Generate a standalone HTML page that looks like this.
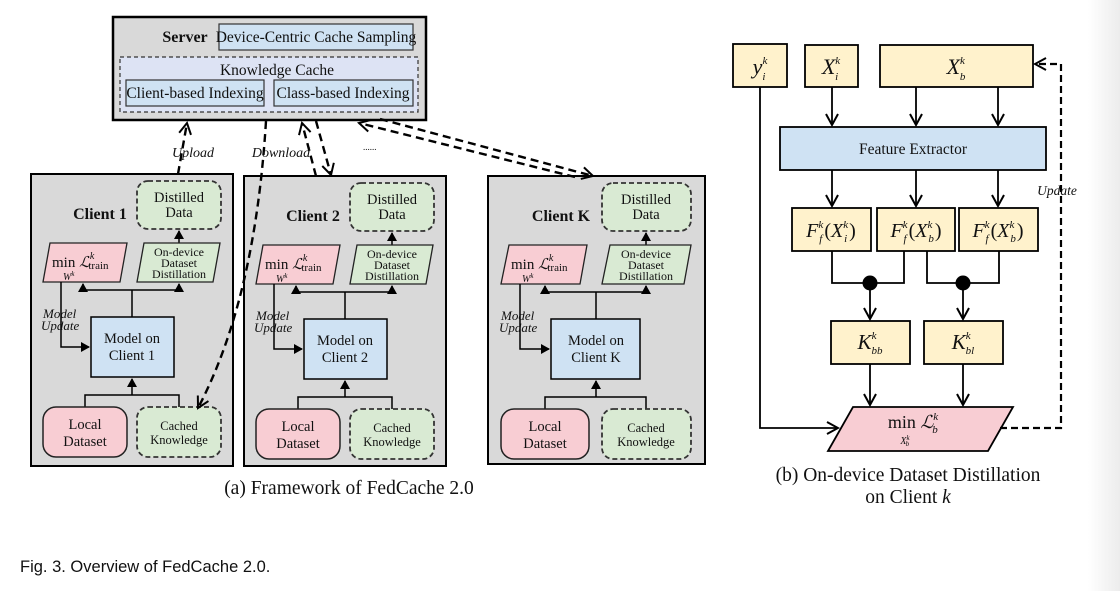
<!DOCTYPE html>
<html><head><meta charset="utf-8"><style>
html,body{margin:0;padding:0;background:#fff;}
svg{display:block;}
text{font-family:"Liberation Serif",serif;fill:#111;}
.c{text-anchor:middle;}
.i{font-style:italic;}
</style></head><body>
<svg width="1120" height="591" viewBox="0 0 1120 591" xmlns="http://www.w3.org/2000/svg">
<defs>
<linearGradient id="g" x1="0" x2="1"><stop offset="0" stop-color="#fff"/><stop offset="1" stop-color="#ececec"/></linearGradient>
<marker id="a" markerWidth="10" markerHeight="10" refX="8" refY="5" orient="auto" markerUnits="userSpaceOnUse"><path d="M0,0 L9,5 L0,10 z" fill="#000"/></marker>
<marker id="o" markerWidth="14" markerHeight="14" refX="12" refY="7" orient="auto" markerUnits="userSpaceOnUse"><path d="M1,1 L12,7 L1,13" fill="none" stroke="#000" stroke-width="2"/></marker>
</defs>
<rect x="1088" y="0" width="32" height="591" fill="url(#g)"/>

<!-- Server -->
<rect x="113" y="17" width="313" height="103" fill="#d9d9d9" stroke="#000" stroke-width="2.5"/>
<text x="185" y="42" class="c" font-weight="bold" font-size="16">Server</text>
<rect x="219" y="24" width="194" height="26" fill="#cfe2f3" stroke="#333" stroke-width="1.2"/>
<text x="316" y="42" class="c" font-size="15.5">Device-Centric Cache Sampling</text>
<rect x="120" y="57" width="298" height="55" fill="#dde3f4" stroke="#333" stroke-width="1.2" stroke-dasharray="4,3"/>
<text x="277" y="75" class="c" font-size="15.5">Knowledge Cache</text>
<rect x="126" y="80" width="138" height="26" fill="#cfe2f3" stroke="#333" stroke-width="1.2"/>
<text x="195" y="98" class="c" font-size="15.5">Client-based Indexing</text>
<rect x="274" y="80" width="139" height="26" fill="#cfe2f3" stroke="#333" stroke-width="1.2"/>
<text x="343" y="98" class="c" font-size="15.5">Class-based Indexing</text>

<!-- Clients -->
<g>
<rect x="31" y="174" width="202" height="292" fill="#d9d9d9" stroke="#000" stroke-width="2"/>
<text x="100" y="219" class="c" font-weight="bold" font-size="16">Client 1</text>
<rect x="137" y="181" width="84" height="48" rx="11" fill="#d9ead3" stroke="#333" stroke-width="1.8" stroke-dasharray="5,3"/>
<text x="179" y="202" class="c" font-size="14.5">Distilled</text><text x="179" y="217" class="c" font-size="14.5">Data</text>
<line x1="179" y1="243" x2="179" y2="231" stroke="#000" stroke-width="1.5" marker-end="url(#a)"/>
<polygon points="50,243 127,243 120,282 43,282" fill="#f8cdd3" stroke="#222" stroke-width="1.3"/>
<text x="52" y="267" font-size="15">min <tspan class="i">ℒ</tspan><tspan font-size="10" dy="-8" class="i">k</tspan><tspan font-size="11" dx="-6" dy="10">train</tspan></text>
<text x="63" y="280" class="i" font-size="10">W<tspan font-size="7" dy="-4">k</tspan></text>
<polygon points="144,243 220,243 213,282 137,282" fill="#d9ead3" stroke="#222" stroke-width="1.3"/>
<text x="179" y="256" class="c" font-size="12">On-device</text><text x="179" y="267" class="c" font-size="12">Dataset</text><text x="179" y="278" class="c" font-size="12">Distillation</text>
<path d="M132,317 V290 M83,290 H179" stroke="#000" stroke-width="1.5" fill="none"/>
<line x1="83" y1="290" x2="83" y2="284" stroke="#000" stroke-width="1.5" marker-end="url(#a)"/>
<line x1="179" y1="290" x2="179" y2="284" stroke="#000" stroke-width="1.5" marker-end="url(#a)"/>
<path d="M61,282 V347 H89" stroke="#000" stroke-width="1.5" fill="none" marker-end="url(#a)"/>
<text x="43" y="318" class="i" font-size="13">Model</text><text x="41" y="330" class="i" font-size="13">Update</text>
<rect x="91" y="317" width="83" height="60" fill="#cfe2f3" stroke="#000" stroke-width="1.5"/>
<text x="132" y="343" class="c" font-size="14.5">Model on</text><text x="132" y="360" class="c" font-size="14.5">Client 1</text>
<path d="M85,407 V395 H179 V407" stroke="#000" stroke-width="1.5" fill="none"/>
<line x1="132" y1="395" x2="132" y2="379" stroke="#000" stroke-width="1.5" marker-end="url(#a)"/>
<rect x="43" y="407" width="84" height="50" rx="13" fill="#f8cdd3" stroke="#222" stroke-width="1.5"/>
<text x="85" y="429" class="c" font-size="14.5">Local</text><text x="85" y="446" class="c" font-size="14.5">Dataset</text>
<rect x="137" y="407" width="84" height="50" rx="11" fill="#d9ead3" stroke="#333" stroke-width="1.8" stroke-dasharray="5,3"/>
<text x="179" y="430" class="c" font-size="12.5">Cached</text><text x="179" y="444" class="c" font-size="12.5">Knowledge</text>
</g>

<g transform="translate(213,2)">
<rect x="31" y="174" width="202" height="290" fill="#d9d9d9" stroke="#000" stroke-width="2"/>
<text x="100" y="219" class="c" font-weight="bold" font-size="16">Client 2</text>
<rect x="137" y="181" width="84" height="48" rx="11" fill="#d9ead3" stroke="#333" stroke-width="1.8" stroke-dasharray="5,3"/>
<text x="179" y="202" class="c" font-size="14.5">Distilled</text><text x="179" y="217" class="c" font-size="14.5">Data</text>
<line x1="179" y1="243" x2="179" y2="231" stroke="#000" stroke-width="1.5" marker-end="url(#a)"/>
<polygon points="50,243 127,243 120,282 43,282" fill="#f8cdd3" stroke="#222" stroke-width="1.3"/>
<text x="52" y="267" font-size="15">min <tspan class="i">ℒ</tspan><tspan font-size="10" dy="-8" class="i">k</tspan><tspan font-size="11" dx="-6" dy="10">train</tspan></text>
<text x="63" y="280" class="i" font-size="10">W<tspan font-size="7" dy="-4">k</tspan></text>
<polygon points="144,243 220,243 213,282 137,282" fill="#d9ead3" stroke="#222" stroke-width="1.3"/>
<text x="179" y="256" class="c" font-size="12">On-device</text><text x="179" y="267" class="c" font-size="12">Dataset</text><text x="179" y="278" class="c" font-size="12">Distillation</text>
<path d="M132,317 V290 M83,290 H179" stroke="#000" stroke-width="1.5" fill="none"/>
<line x1="83" y1="290" x2="83" y2="284" stroke="#000" stroke-width="1.5" marker-end="url(#a)"/>
<line x1="179" y1="290" x2="179" y2="284" stroke="#000" stroke-width="1.5" marker-end="url(#a)"/>
<path d="M61,282 V347 H89" stroke="#000" stroke-width="1.5" fill="none" marker-end="url(#a)"/>
<text x="43" y="318" class="i" font-size="13">Model</text><text x="41" y="330" class="i" font-size="13">Update</text>
<rect x="91" y="317" width="83" height="60" fill="#cfe2f3" stroke="#000" stroke-width="1.5"/>
<text x="132" y="343" class="c" font-size="14.5">Model on</text><text x="132" y="360" class="c" font-size="14.5">Client 2</text>
<path d="M85,407 V395 H179 V407" stroke="#000" stroke-width="1.5" fill="none"/>
<line x1="132" y1="395" x2="132" y2="379" stroke="#000" stroke-width="1.5" marker-end="url(#a)"/>
<rect x="43" y="407" width="84" height="50" rx="13" fill="#f8cdd3" stroke="#222" stroke-width="1.5"/>
<text x="85" y="429" class="c" font-size="14.5">Local</text><text x="85" y="446" class="c" font-size="14.5">Dataset</text>
<rect x="137" y="407" width="84" height="50" rx="11" fill="#d9ead3" stroke="#333" stroke-width="1.8" stroke-dasharray="5,3"/>
<text x="179" y="430" class="c" font-size="12.5">Cached</text><text x="179" y="444" class="c" font-size="12.5">Knowledge</text>
</g>

<g transform="translate(457,2)">
<rect x="31" y="174" width="217" height="288" fill="#d9d9d9" stroke="#000" stroke-width="2"/>
<text x="104" y="219" class="c" font-weight="bold" font-size="16">Client K</text>
<rect x="145" y="181" width="89" height="48" rx="11" fill="#d9ead3" stroke="#333" stroke-width="1.8" stroke-dasharray="5,3"/>
<text x="189" y="202" class="c" font-size="14.5">Distilled</text><text x="189" y="217" class="c" font-size="14.5">Data</text>
<line x1="189" y1="243" x2="189" y2="231" stroke="#000" stroke-width="1.5" marker-end="url(#a)"/>
<polygon points="52,243 130,243 123,282 44,282" fill="#f8cdd3" stroke="#222" stroke-width="1.3"/>
<text x="54" y="267" font-size="15">min <tspan class="i">ℒ</tspan><tspan font-size="10" dy="-8" class="i">k</tspan><tspan font-size="11" dx="-6" dy="10">train</tspan></text>
<text x="65" y="280" class="i" font-size="10">W<tspan font-size="7" dy="-4">k</tspan></text>
<polygon points="153,243 234,243 227,282 145,282" fill="#d9ead3" stroke="#222" stroke-width="1.3"/>
<text x="189" y="256" class="c" font-size="12">On-device</text><text x="189" y="267" class="c" font-size="12">Dataset</text><text x="189" y="278" class="c" font-size="12">Distillation</text>
<path d="M139,317 V290 M88,290 H189" stroke="#000" stroke-width="1.5" fill="none"/>
<line x1="88" y1="290" x2="88" y2="284" stroke="#000" stroke-width="1.5" marker-end="url(#a)"/>
<line x1="189" y1="290" x2="189" y2="284" stroke="#000" stroke-width="1.5" marker-end="url(#a)"/>
<path d="M63,282 V347 H92" stroke="#000" stroke-width="1.5" fill="none" marker-end="url(#a)"/>
<text x="44" y="318" class="i" font-size="13">Model</text><text x="42" y="330" class="i" font-size="13">Update</text>
<rect x="94" y="317" width="89" height="60" fill="#cfe2f3" stroke="#000" stroke-width="1.5"/>
<text x="139" y="343" class="c" font-size="14.5">Model on</text><text x="139" y="360" class="c" font-size="14.5">Client K</text>
<path d="M88,407 V395 H189 V407" stroke="#000" stroke-width="1.5" fill="none"/>
<line x1="139" y1="395" x2="139" y2="379" stroke="#000" stroke-width="1.5" marker-end="url(#a)"/>
<rect x="44" y="407" width="88" height="50" rx="13" fill="#f8cdd3" stroke="#222" stroke-width="1.5"/>
<text x="88" y="429" class="c" font-size="14.5">Local</text><text x="88" y="446" class="c" font-size="14.5">Dataset</text>
<rect x="145" y="407" width="89" height="50" rx="11" fill="#d9ead3" stroke="#333" stroke-width="1.8" stroke-dasharray="5,3"/>
<text x="189" y="430" class="c" font-size="12.5">Cached</text><text x="189" y="444" class="c" font-size="12.5">Knowledge</text>
</g>

<!-- server links -->
<g stroke="#000" stroke-width="2.4" stroke-dasharray="8,5" fill="none">
<line x1="178" y1="174" x2="187" y2="123" marker-end="url(#o)"/>
<path d="M266,121 Q255,300 198,408" marker-end="url(#o)"/>
<line x1="316" y1="176" x2="302" y2="123" marker-end="url(#o)"/>
<line x1="316" y1="121" x2="331" y2="175" marker-end="url(#o)"/>
<line x1="575" y1="177" x2="359" y2="123" marker-end="url(#o)"/>
<line x1="380" y1="119" x2="593" y2="176" marker-end="url(#o)"/>
</g>
<text x="193" y="157" class="c i" font-size="14">Upload</text>
<text x="281" y="157" class="c i" font-size="14">Download</text>
<text x="363" y="150" font-size="9">......</text>
<text x="349" y="494" class="c" font-size="19.5">(a) Framework of FedCache 2.0</text>

<!-- Right panel -->
<g stroke="#000" stroke-width="1.8">
<rect x="733" y="44" width="54" height="43" fill="#fff2cc"/>
<rect x="805" y="45" width="53" height="42" fill="#fff2cc"/>
<rect x="880" y="45" width="153" height="42" fill="#fff2cc"/>
<rect x="780" y="127" width="266" height="43" fill="#cfe2f3"/>
<rect x="792" y="208" width="79" height="43" fill="#fff2cc"/>
<rect x="877" y="208" width="78" height="43" fill="#fff2cc"/>
<rect x="959" y="208" width="79" height="43" fill="#fff2cc"/>
<rect x="831" y="321" width="79" height="43" fill="#fff2cc"/>
<rect x="924" y="321" width="79" height="43" fill="#fff2cc"/>
<polygon points="853,407 1013,407 988,451 828,451" fill="#f8cdd3"/>
</g>
<g stroke="#000" stroke-width="1.8" fill="none">
<line x1="832" y1="87" x2="832" y2="125" marker-end="url(#o)"/>
<line x1="916" y1="87" x2="916" y2="125" marker-end="url(#o)"/>
<line x1="998" y1="87" x2="998" y2="125" marker-end="url(#o)"/>
<line x1="832" y1="170" x2="832" y2="206" marker-end="url(#o)"/>
<line x1="916" y1="170" x2="916" y2="206" marker-end="url(#o)"/>
<line x1="998" y1="170" x2="998" y2="206" marker-end="url(#o)"/>
<path d="M832,251 V283 H904 V251"/>
<path d="M927,251 V283 H999 V251"/>
<line x1="870" y1="283" x2="870" y2="319" marker-end="url(#o)"/>
<line x1="963" y1="283" x2="963" y2="319" marker-end="url(#o)"/>
<line x1="870" y1="364" x2="870" y2="405" marker-end="url(#o)"/>
<line x1="963" y1="364" x2="963" y2="405" marker-end="url(#o)"/>
<path d="M760,87 V428 H838" marker-end="url(#o)"/>
<path d="M1000,428 H1061 V64 H1035" stroke-width="2.2" stroke-dasharray="7,4" marker-end="url(#o)"/>
</g>
<circle cx="870" cy="283" r="7.5" fill="#000"/>
<circle cx="963" cy="283" r="7.5" fill="#000"/>
<text x="760" y="74" class="c i" font-size="22">y<tspan font-size="11" dy="-10">k</tspan><tspan font-size="11" dx="-5" dy="16">i</tspan></text>
<text x="831" y="74" class="c i" font-size="22">X<tspan font-size="11" dy="-10">k</tspan><tspan font-size="11" dx="-5" dy="16">i</tspan></text>
<text x="956" y="74" class="c i" font-size="22">X<tspan font-size="11" dy="-10">k</tspan><tspan font-size="11" dx="-5" dy="16">b</tspan></text>
<text x="913" y="154" class="c" font-size="15.5">Feature Extractor</text>
<text x="831" y="237" class="c i" font-size="20">F<tspan font-size="11" dy="-9">k</tspan><tspan font-size="11" dx="-4" dy="14">f</tspan><tspan dx="2" dy="-5" font-style="normal">(</tspan>X<tspan font-size="11" dy="-9">k</tspan><tspan font-size="11" dx="-4" dy="14">i</tspan><tspan dx="2" dy="-5" font-style="normal">)</tspan></text>
<text x="916" y="237" class="c i" font-size="20">F<tspan font-size="11" dy="-9">k</tspan><tspan font-size="11" dx="-4" dy="14">f</tspan><tspan dx="2" dy="-5" font-style="normal">(</tspan>X<tspan font-size="11" dy="-9">k</tspan><tspan font-size="11" dx="-4" dy="14">b</tspan><tspan dx="1" dy="-5" font-style="normal">)</tspan></text>
<text x="998" y="237" class="c i" font-size="20">F<tspan font-size="11" dy="-9">k</tspan><tspan font-size="11" dx="-4" dy="14">f</tspan><tspan dx="2" dy="-5" font-style="normal">(</tspan>X<tspan font-size="11" dy="-9">k</tspan><tspan font-size="11" dx="-4" dy="14">b</tspan><tspan dx="1" dy="-5" font-style="normal">)</tspan></text>
<text x="870" y="349" class="c i" font-size="21">K<tspan font-size="11" dy="-10">k</tspan><tspan font-size="11" dx="-5" dy="15">bb</tspan></text>
<text x="963" y="349" class="c i" font-size="21">K<tspan font-size="11" dy="-10">k</tspan><tspan font-size="11" dx="-5" dy="15">bl</tspan></text>
<text x="913" y="428" class="c" font-size="18">min <tspan class="i">ℒ</tspan><tspan font-size="11" class="i" dy="-8">k</tspan><tspan font-size="11" class="i" dx="-6" dy="13">b</tspan></text>
<text x="905" y="444" class="c i" font-size="10">X<tspan font-size="7" dy="-4">k</tspan><tspan font-size="7" dx="-4" dy="6">b</tspan></text>
<text x="1057" y="195" class="c i" font-size="13.5">Update</text>
<text x="908" y="481" class="c" font-size="19.5">(b) On-device Dataset Distillation</text>
<text x="908" y="503" class="c" font-size="19.5">on Client <tspan class="i">k</tspan></text>

<text x="20" y="572" font-size="16.5" style="font-family:'Liberation Sans',sans-serif">Fig. 3. Overview of FedCache 2.0.</text>
</svg>
</body></html>
